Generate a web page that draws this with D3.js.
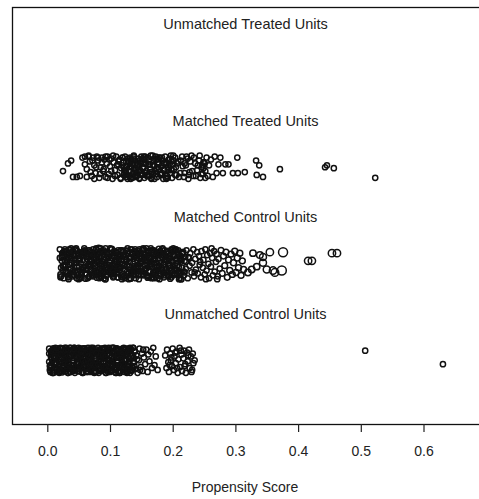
<!DOCTYPE html>
<html>
<head>
<meta charset="utf-8">
<script src="https://cdn.jsdelivr.net/npm/d3@7"></script>
<style>
  body { margin: 0; background: #fff; }
  text { font-family: "Liberation Sans", Arial, sans-serif; fill: #222; }
</style>
</head>
<body>
<div id="chart"></div>
<script>
// group names, bottom to top (group 1 .. 4)
const groupLabels = ["Unmatched Control Units", "Matched Control Units", "Matched Treated Units", "Unmatched Treated Units"];
const xTicks = [0, 0.1, 0.2, 0.3, 0.4, 0.5, 0.6];
const xTitle = "Propensity Score";

// each point: [propensity score, vertical jitter, weight (optional)]
const unmatchedTreated = [];

const matchedTreated = [
  [.025,-.04],[.033,.04],[.038,.07],[.041,-.10],[.047,-.10],[.052,-.09],
  [.056,.10],[.060,.11],[.063,-.02],[.066,.11],[.068,.06],[.071,-.09],[.073,.10],[.075,.02],[.077,-.06],[.079,.11],
  [.081,.07],[.083,-.11],[.085,.00],[.087,.10],[.089,-.04],[.091,.08],[.093,-.10],[.095,.04],[.096,.11],[.098,-.07],
  [.100,.01],[.102,.09],[.104,-.12],[.106,.05],[.108,-.03],
  [.110,.11],[.112,-.08],[.113,.03],[.115,.08],[.117,-.11],[.118,-.01],[.120,.10],[.121,.05],[.123,-.06],[.124,.11],
  [.126,-.10],[.127,.01],[.129,.07],[.130,-.04],[.132,.10],[.133,-.12],[.135,.04],[.136,-.07],[.138,.11],[.139,-.01],
  [.140,.07],[.142,-.10],[.143,.02],[.145,.09],[.146,-.05],[.147,-.12],[.149,.05],[.150,.11],[.151,-.08],[.153,.00],
  [.154,.08],[.155,-.11],[.157,.03],[.158,-.04],[.160,.10],[.161,-.09],[.162,.06],[.164,-.02],[.165,.12],[.166,-.12],
  [.168,.02],[.169,-.07],[.170,.09],[.128,-.12],[.137,.02],[.144,-.03],[.152,.04],[.159,-.08],[.134,.08],[.141,-.09],
  [.122,-.08],[.125,-.04],[.131,-.09],[.136,-.11],[.139,-.06],[.143,-.08],[.148,-.03],[.156,-.06],[.163,-.09],[.167,-.05],
  [.119,.02],[.126,.06],[.133,.00],[.140,.04],[.147,.02],[.153,.09],[.163,.03],
  [.172,-.04],[.173,.11],[.175,-.10],[.176,.05],[.178,-.02],[.179,.10],[.181,-.08],[.182,.01],[.184,.07],[.185,-.12],
  [.187,-.03],[.188,.11],[.190,.04],[.191,-.09],[.193,.00],[.194,.08],[.196,-.06],[.197,.12],[.199,-.11],[.200,.03],
  [.202,-.02],[.204,.10],[.206,-.08],[.171,.02],[.177,.08],[.183,-.06],[.189,-.11],[.195,.03],[.201,.07],
  [.174,-.07],[.186,.04],[.192,-.03],[.198,.06],[.205,.00],
  [.209,.06],[.212,-.06],[.215,.11],[.218,-.10],[.221,.02],[.224,.09],[.227,-.05],[.230,.12],[.233,-.09],[.236,.04],
  [.239,-.03],[.242,.07],[.244,-.11],[.246,.00],[.248,-.07],[.250,.05],[.252,-.04],[.254,.10],[.256,-.09],[.258,.02],
  [.261,.08],[.264,-.10],[.267,.11],[.270,-.06],[.273,.03],[.219,.04],[.226,-.08],[.247,.02],[.249,-.01],[.251,.04],
  [.060,.03],[.063,-.10],[.066,.12],[.069,-.05],[.072,.07],[.075,-.12],[.078,.00],[.081,.10],[.084,-.07],[.087,.05],
  [.090,-.02],[.093,.11],[.096,-.11],[.099,.08],[.102,-.04],[.105,.12],[.108,-.09],[.111,.02],[.114,.06],[.117,-.12],
  [.120,.10],[.123,-.03],[.126,-.08],[.129,.09],[.132,.01],[.135,-.10],[.138,.12],[.141,-.06],[.144,.04],[.147,-.11],
  [.150,.07],[.153,-.01],[.156,.11],[.159,-.09],[.162,.03],[.165,-.05],[.168,.12],[.171,-.12],[.174,.08],[.177,.00],
  [.180,-.07],[.183,.10],[.186,-.03],[.189,.05],[.192,-.11],[.195,.09],[.198,-.02],[.201,.12],[.204,-.08],[.207,.04],
  [.210,-.10],[.213,.07],[.216,.01],[.219,-.06],[.222,.11],[.225,-.12],[.228,.06],[.231,-.04],[.234,.10],[.237,-.09],
  [.240,.02],[.243,.12],[.246,-.07],[.249,.05],[.252,-.11],
  [.122,.00],[.126,-.06],[.130,.05],[.134,-.10],[.138,.09],[.142,-.02],[.146,.07],[.150,-.08],[.154,.11],[.158,-.04],
  [.162,.03],[.166,-.11],[.170,.06],[.174,-.01],[.178,.10],[.182,-.07],[.186,.04],[.190,-.12],[.194,.08],[.198,-.03],
  [.276,.10],[.284,.03],[.289,.03],[.303,.10],[.280,-.06],[.296,-.06],[.304,-.06],[.315,-.05],[.333,.07],[.338,.02],
  [.334,-.08],[.344,-.10],[.371,-.02],[.443,.00],[.446,.02],[.457,-.01],[.523,-.11]
];

const matchedControl = [
  [.020,.15],[.022,-.04],[.024,.09],[.026,-.15],[.028,.03],[.030,.12],[.032,-.10],[.034,.06],[.036,-.01],[.038,.16],
  [.040,-.13],[.042,.08],[.044,-.07],[.046,.01],[.048,.13],[.050,-.16],[.052,.05],[.054,-.09],[.056,.11],[.058,-.03],
  [.060,.14],[.062,-.06],[.064,.10],[.066,-.14],[.068,.02],[.070,.09],[.072,-.11],[.074,.06],[.076,-.02],[.078,.15],
  [.080,-.12],[.082,.07],[.084,-.05],[.086,.00],[.088,.12],[.090,-.15],[.092,.04],[.094,-.08],[.096,.10],[.098,-.02],
  [.100,.16],[.102,-.07],[.104,.08],[.106,-.13],[.108,.03],[.110,.11],[.112,-.09],[.114,.05],[.116,-.03],[.118,.14],
  [.120,-.14],[.122,.09],[.124,-.06],[.126,.02],[.128,.13],[.130,-.16],[.132,.06],[.134,-.10],[.136,.12],[.138,-.04],
  [.140,.15],[.142,-.05],[.144,.10],[.146,-.12],[.148,.01],[.150,.08],[.152,-.11],[.154,.07],[.156,-.01],[.158,.16],
  [.160,-.13],[.162,.06],[.164,-.08],[.166,.00],[.168,.14],[.170,-.15],[.172,.04],[.174,-.07],[.176,.11],[.178,-.03],
  [.180,.13],[.182,-.06],[.184,.09],[.186,-.14],[.188,.02],[.190,.12],[.192,-.10],[.194,.05],[.196,-.02],[.198,.15],
  [.200,-.12],[.202,.08],[.204,-.05],[.206,.01],[.208,.12],[.210,-.16],[.212,.05],[.214,-.09],
  [.021,-.11],[.023,.07],[.025,-.02],[.027,.13],[.029,-.08],[.031,.04],[.033,-.14],[.035,.10],[.037,-.05],[.039,.01],
  [.041,.09],[.043,-.12],[.045,.15],[.047,-.03],[.049,-.09],[.051,.06],[.053,-.15],[.055,.11],[.057,-.06],[.059,.12],
  [.061,-.10],[.063,.05],[.065,-.01],[.067,.14],[.069,-.07],[.071,.03],[.073,-.13],[.075,.09],[.077,-.04],[.079,.02],
  [.081,.10],[.083,-.11],[.085,.16],[.087,-.02],[.089,-.08],[.091,.05],[.093,-.16],[.095,.12],[.097,-.05],[.099,.11],
  [.101,-.09],[.103,.06],[.105,-.03],[.107,.13],[.109,-.06],[.111,.02],[.113,-.14],[.115,.08],[.117,-.04],[.119,.00],
  [.121,.08],[.123,-.12],[.125,.14],[.127,-.01],[.129,-.10],[.131,.07],[.133,-.15],[.135,.10],[.137,-.07],[.139,.13],
  [.141,-.11],[.143,.04],[.145,-.02],[.147,.15],[.149,-.08],[.151,.03],[.153,-.12],[.155,.09],[.157,-.05],[.159,.01],
  [.161,.11],[.163,-.13],[.165,.16],[.167,-.03],[.169,-.09],[.171,.05],[.173,-.14],[.175,.12],[.177,-.06],[.179,.10],
  [.181,-.10],[.183,.07],[.185,-.01],[.187,.14],[.189,-.07],[.191,.04],[.193,-.13],[.195,.08],[.197,-.04],[.199,.02],
  [.201,.09],[.203,-.11],[.205,.15],[.207,-.02],[.209,-.08],[.211,.06],[.213,-.16],[.215,.11],
  [.050,.05],[.054,-.12],[.058,.13],[.062,-.06],[.066,.08],[.070,-.01],[.074,.11],[.078,-.09],[.082,.03],[.086,-.14],
  [.090,.14],[.094,-.04],[.098,.07],[.102,-.10],[.106,.00],[.110,.12],[.114,-.07],[.118,.09],[.122,-.13],[.126,.04],
  [.130,-.03],[.134,.15],[.138,-.08],[.142,.06],[.146,-.11],[.150,.02],[.154,.10],[.158,-.05],[.162,.13],[.166,-.15],
  [.170,.01],[.174,.08],[.178,-.02],[.182,.11],[.186,-.09],[.190,.05],[.194,-.12],[.198,.14],
  [.020,.06],[.022,-.13],[.024,.11],[.026,-.03],[.028,.15],[.030,-.09],[.032,.02],[.034,-.16],[.036,.08],[.038,-.05],
  [.040,.13],[.042,-.11],[.044,.04],[.046,.16],[.048,-.07],[.050,.10],[.052,-.14],[.054,.00],[.056,.12],[.058,-.04],
  [.060,-.10],[.062,.07],[.064,-.15],[.066,.14],[.068,-.01],[.070,.05],[.072,-.12],[.074,.09],[.076,-.06],[.078,.16],
  [.080,-.08],[.082,.03],[.084,.11],[.086,-.13],[.088,.13],[.090,-.02],[.092,-.16],[.094,.06],[.096,.10],[.098,-.09],
  [.100,.01],[.102,.15],[.104,-.11],[.106,.08],[.108,-.04],[.110,.12],[.112,-.14],[.114,.04],[.116,-.07],[.118,.14],
  [.120,-.01],[.122,.09],[.124,-.15],[.126,.05],[.128,.16],[.130,-.10],[.132,.02],[.134,-.06],[.136,.11],[.138,-.12],
  [.140,.07],[.142,-.03],[.144,.13],[.146,-.16],[.148,.00],[.150,.10],[.152,-.08],[.154,.15],[.156,-.05],[.158,.03],
  [.160,-.13],[.162,.12],[.164,-.02],[.166,.06],[.168,-.11],[.170,.14],[.172,-.07],[.174,.09],[.176,-.15],[.178,.01],
  [.180,.11],[.182,-.04],[.184,.16],[.186,-.12],[.188,.05],[.190,-.09],[.192,.13],[.194,-.01],[.196,.08],[.198,-.14],
  [.200,.02],[.202,-.06],[.204,.15],[.206,-.10],[.208,.10],[.210,-.03],[.212,.04],[.214,-.16],[.216,.12],[.218,-.08],
  [.220,.07],
  [.021,-.14],[.023,.03],[.025,-.07],[.027,.12],[.029,-.01],[.031,.09],[.033,-.12],[.035,.15],[.037,-.05],[.039,.06],
  [.041,-.09],[.043,.01],[.045,.14],[.047,-.15],[.049,.08],[.051,-.03],[.053,.11],[.055,-.10],[.057,.04],[.059,.16],
  [.061,-.06],[.063,.12],[.065,-.02],[.067,-.13],[.069,.07],[.071,-.08],[.073,.15],[.075,.00],[.077,-.11],[.079,.10],
  [.081,.04],[.083,-.15],[.085,.13],[.087,-.05],[.089,.02],[.091,-.09],[.093,.16],[.095,-.12],[.097,.06],[.099,-.01],
  [.101,.11],[.103,-.07],[.105,-.14],[.107,.09],[.109,.03],[.111,-.10],[.113,.14],[.115,-.04],[.117,.07],[.119,-.16],
  [.121,.12],[.123,-.02],[.125,.05],[.127,-.13],[.129,.10],[.131,-.06],[.133,.15],[.135,-.09],[.137,.00],[.139,.13],
  [.141,-.15],[.143,.08],[.145,-.04],[.147,.11],[.149,-.11],[.151,.02],[.153,.16],[.155,-.07],[.157,.06],[.159,-.12],
  [.161,.09],[.163,-.01],[.165,.14],[.167,-.14],[.169,.04],[.171,-.08],[.173,.12],[.175,-.03],[.177,.10],[.179,-.16],
  [.181,.01],[.183,.15],[.185,-.10],[.187,.07],[.189,-.05],[.191,.13],[.193,-.13],[.195,.03],[.197,.11],[.199,-.06],
  [.201,.16],[.203,-.11],[.205,.05],[.207,-.02],[.209,.14],[.211,-.15],[.213,.08],[.215,-.04],[.217,.12],[.219,-.09],
  [.221,.02],
  [.025,.115],[.028,-.025],[.031,.055],[.034,-.135],[.037,.145],[.040,-.075],[.043,.005],[.046,.095],[.049,-.115],[.052,.035],
  [.055,-.055],[.058,.135],[.061,-.155],[.064,.075],[.067,-.015],[.070,.125],[.073,-.095],[.076,.045],[.079,-.145],[.082,.165],
  [.085,.015],[.088,-.065],[.091,.105],[.094,-.125],[.097,.065],[.100,-.035],[.103,.155],[.106,-.105],[.109,.025],[.112,-.045],
  [.115,.085],[.118,-.135],[.121,.135],[.124,-.005],[.127,-.085],[.130,.055],[.133,-.155],[.136,.115],[.139,-.025],[.142,.095],
  [.145,-.115],[.148,.015],[.151,.145],[.154,-.065],[.157,.045],[.160,-.145],[.163,.075],[.166,-.035],[.169,.125],[.172,-.095],
  [.175,.005],[.178,.155],[.181,-.125],[.184,.065],[.187,-.055],[.190,.105],[.193,-.015],[.196,-.155],[.199,.035],[.202,.135],
  [.205,-.075],[.208,.085],[.211,-.105],[.214,.025],
  [.216,.10],[.218,-.12],[.219,.03],[.221,-.05],[.222,.14],[.224,-.15],[.225,.07],[.227,-.02],[.228,.11],[.230,-.09],
  [.231,.01],[.233,.15],[.234,-.13],[.236,.05],[.237,-.06],[.239,.12],[.240,-.10],[.242,.08],[.243,-.01],[.245,-.14],
  [.246,.13],[.248,-.04],[.249,.04],[.251,-.11],[.252,.15],[.254,-.07],[.255,.09],[.257,.00],[.258,-.15],[.260,.11],
  [.261,-.03],[.263,.06],[.264,-.12],[.266,.13],[.267,-.08],[.269,.02],[.270,.10],[.272,-.13],[.273,.05],[.275,-.05],
  [.277,.14,1.2],[.279,-.10,1.2],[.281,.08,1.2],[.283,-.02,1.2],[.285,.12,1.2],[.287,-.14,1.2],[.289,.04,1.2],
  [.291,-.07,1.3],[.293,.10,1.3],[.295,-.11,1.3],[.297,.01,1.3],[.299,.13,1.3],[.301,-.09,1.3],[.303,.06,1.3],
  [.305,-.04,1.3],[.307,.11,1.3],[.309,-.12,1.3],[.311,.03,1.3],[.313,-.06,1.3],
  [.262,.16],[.253,-.16],[.244,.02],[.235,-.09],[.226,.06],[.271,-.16],
  [.320,-.09,1.5],[.326,-.06,1.5],[.328,.11,1.5],[.334,-.03,1.5],[.339,.09,1.6],[.344,.01,1.8],[.344,.07,1.8],
  [.350,-.06,1.8],[.355,.12,2],[.360,-.07,2],[.363,-.09,2.2],[.374,-.07,3],[.376,.12,3],
  [.416,.03,2],[.422,.03,2],[.454,.11,2],[.462,.11,2]
];

const unmatchedControl = [
  [.003,.12],[.005,-.05],[.007,.08],[.009,-.13],[.011,.02],[.013,.10],[.015,-.09],[.017,.05],[.019,-.02],[.021,.13],
  [.023,-.11],[.025,.07],[.027,-.06],[.029,.00],[.031,.11],[.033,-.13],[.035,.04],[.037,-.08],[.039,.09],[.041,-.03],
  [.043,.13],[.045,-.10],[.047,.06],[.049,-.04],[.051,.01],[.053,.12],[.055,-.12],[.057,.03],[.059,-.07],[.061,.10],
  [.063,-.01],[.065,.13],[.067,-.09],[.069,.05],[.071,-.05],[.073,.08],[.075,-.13],[.077,.02],[.079,.11],[.081,-.06],
  [.083,.09],[.085,-.11],[.087,.04],[.089,-.02],[.091,.12],[.093,-.08],[.095,.06],[.097,-.12],[.099,.00],[.101,.10],
  [.103,-.04],[.105,.13],[.107,-.10],[.109,.03],[.111,-.07],[.113,.11],[.115,-.13],[.117,.07],[.119,-.01],[.121,.09],
  [.123,-.09],[.125,.05],[.127,-.05],[.129,.12],
  [.004,-.10],[.006,.06],[.008,-.01],[.010,.12],[.012,-.07],[.014,.03],[.016,-.12],[.018,.09],[.020,-.04],[.022,.01],
  [.024,.08],[.026,-.10],[.028,.13],[.030,-.02],[.032,-.08],[.034,.05],[.036,-.12],[.038,.10],[.040,-.05],[.042,.11],
  [.044,-.09],[.046,.04],[.048,-.03],[.050,.13],[.052,-.06],[.054,.02],[.056,-.13],[.058,.08],[.060,-.01],[.062,.10],
  [.064,-.11],[.066,.07],[.068,.00],[.070,-.07],[.072,.12],[.074,-.04],[.076,.05],[.078,-.12],[.080,.09],[.082,-.02],
  [.084,.11],[.086,-.09],[.088,.03],[.090,-.06],[.092,.13],[.094,-.13],[.096,.06],[.098,-.03],[.100,.10],[.102,-.10],
  [.104,.01],[.106,.08],[.108,-.08],[.110,.12],[.112,-.05],[.114,.04],[.116,-.11],[.118,.09],[.120,-.02],[.122,.13],
  [.124,-.12],[.126,.06],[.128,-.06],[.130,.02],
  [.006,.03],[.010,-.13],[.014,.11],[.018,-.06],[.022,.07],[.026,-.01],[.030,.13],[.034,-.09],[.038,.04],[.042,-.11],
  [.046,.10],[.050,-.04],[.054,.01],[.058,.12],[.062,-.07],[.066,.06],[.070,-.12],[.074,.08],[.078,-.03],[.082,.09],
  [.086,-.10],[.090,.05],[.094,-.08],[.098,.13],[.102,-.02],[.106,.10],[.110,-.13],[.114,.04],[.118,-.05],[.122,.11],
  [.126,-.09],
  [.003,.07],[.005,-.12],[.007,.01],[.009,.10],[.011,-.04],[.013,.13],[.015,-.08],[.017,.04],[.019,-.13],[.021,.09],
  [.023,-.03],[.025,.12],[.027,-.10],[.029,.06],[.031,-.06],[.033,.00],[.035,.11],[.037,-.12],[.039,.08],[.041,-.01],
  [.043,.13],[.045,-.07],[.047,.03],[.049,-.11],[.051,.10],[.053,-.05],[.055,.05],[.057,-.13],[.059,.12],[.061,-.02],
  [.063,.07],[.065,-.09],[.067,.01],[.069,.11],[.071,-.06],[.073,.13],[.075,-.12],[.077,.04],[.079,-.03],[.081,.09],
  [.083,-.10],[.085,.06],[.087,.12],[.089,-.08],[.091,.02],[.093,-.13],[.095,.10],[.097,-.04],[.099,.05],[.101,-.11],
  [.103,.13],[.105,-.01],[.107,.08],[.109,-.07],[.111,.03],[.113,-.12],[.115,.11],[.117,-.05],[.119,.06],[.121,-.09],
  [.123,.00],[.125,.12],[.127,-.13],[.129,.09],[.131,-.02],[.133,.04],[.135,-.10],[.137,.13],[.139,-.06],
  [.004,-.06],[.006,.09],[.008,-.13],[.010,.04],[.012,.11],[.014,-.02],[.016,-.09],[.018,.07],[.020,-.12],[.022,.12],
  [.024,.02],[.026,-.07],[.028,.10],[.030,-.11],[.032,.05],[.034,-.04],[.036,.13],[.038,-.08],[.040,.00],[.042,.08],
  [.044,-.13],[.046,.06],[.048,-.03],[.050,.11],[.052,-.09],[.054,.01],[.056,.12],[.058,-.06],[.060,.04],[.062,-.12],
  [.064,.10],[.066,-.01],[.068,-.08],[.070,.13],[.072,-.05],[.074,.07],[.076,-.11],[.078,.02],[.080,.09],[.082,-.13],
  [.084,.05],[.086,-.03],[.088,.12],[.090,-.10],[.092,.08],[.094,-.07],[.096,.00],[.098,.11],[.100,-.12],[.102,.03],
  [.104,-.05],[.106,.13],[.108,-.09],[.110,.06],[.112,-.02],[.114,.10],[.116,-.13],[.118,.04],[.120,.12],[.122,-.08],
  [.124,.01],[.126,-.11],[.128,.07],[.130,-.04],[.132,.13],[.134,-.10],[.136,.05],[.138,-.01],[.140,.09],
  [.005,-.08],[.009,.12],[.013,-.03],[.017,.06],[.021,-.11],[.025,.09],[.029,.00],[.033,-.13],[.037,.13],[.041,-.06],
  [.045,.04],[.049,-.09],[.053,.11],[.057,-.01],[.061,.07],[.065,-.12],[.069,.02],[.073,.10],[.077,-.05],[.081,.13],
  [.085,-.10],[.089,.05],[.093,-.02],[.097,.12],[.101,-.07],[.105,.08],[.109,-.13],[.113,.03],[.117,.11],[.121,-.04],
  [.125,.06],[.129,-.11],[.133,.10],[.137,-.08],
  [.003,-.015],[.006,.095],[.009,-.105],[.012,.035],[.015,.125],[.018,-.055],[.021,.065],[.024,-.125],[.027,.015],[.030,.105],
  [.033,-.035],[.036,.055],[.039,-.095],[.042,.115],[.045,-.065],[.048,.025],[.051,-.115],[.054,.085],[.057,-.005],[.060,.125],
  [.063,-.085],[.066,.045],[.069,-.025],[.072,.105],[.075,-.125],[.078,.075],[.081,-.045],[.084,.005],[.087,.115],[.090,-.075],
  [.093,.035],[.096,-.105],[.099,.095],[.102,-.015],[.105,.065],[.108,-.125],[.111,.125],[.114,-.055],[.117,.015],[.120,.085],
  [.123,-.095],[.126,.045],[.129,-.035],[.132,.105],[.135,-.065],[.138,.025],
  [.129,.08],[.131,-.06],[.133,.12],[.134,-.11],[.136,.02],[.138,-.02],[.139,.10],[.141,-.09],[.142,.05],[.144,-.13],
  [.146,.00],[.147,.12],[.149,-.07],[.151,.07],[.152,-.11],[.154,.03],[.156,-.04],[.158,.11],[.160,-.12],[.161,.06],
  [.163,-.01],[.165,.09],[.167,-.08],[.169,.13],[.171,-.05],[.173,.04],[.176,-.10],[.132,-.13],[.137,.13],[.143,.01],
  [.148,-.10],[.153,.11],
  [.188,.05],[.190,-.08],[.191,.11],[.193,-.02],[.194,-.12],[.196,.07],[.197,.00],[.199,-.06],[.200,.12],[.202,-.10],
  [.203,.04],[.205,-.03],[.206,.09],[.208,-.13],[.209,.01],[.211,.13],[.212,-.07],[.214,.06],[.215,-.11],[.217,.02],
  [.218,.10],[.220,-.04],[.221,-.13],[.223,.08],[.224,-.01],[.226,.11],[.227,-.08],[.229,.04],[.230,-.12],[.232,.07],
  [.233,-.03],[.235,.00],[.198,.03],[.207,-.08],[.213,.10],[.219,-.06],[.225,.05],[.231,-.10],[.195,-.05],[.204,.08],
  [.507,.10],[.631,-.04]
];

const groups = [unmatchedControl, matchedControl, matchedTreated, unmatchedTreated];

const width = 479, height = 499;

const x = d3.scaleLinear().domain([0, 0.6]).range([47.3, 423.5]);
const y = d3.scaleLinear().domain([0.34, 4.66]).range([424, 7]);
const r = d3.scaleSqrt().domain([0, 1]).range([0, 2.6]);

const svg = d3.select('#chart')
  .append('svg')
  .attr('width', width)
  .attr('height', height);

// plot frame (right side runs past the window like the original)
svg.append('rect')
  .attr('x', 12.5)
  .attr('y', 7.5)
  .attr('width', 600)
  .attr('height', y(0.34) - y(4.66))
  .attr('fill', 'none')
  .attr('stroke', '#111')
  .attr('stroke-width', 1.3);

// group titles
svg.selectAll('.glabel')
  .data(groupLabels)
  .enter().append('text')
  .attr('class', 'glabel')
  .attr('x', 245.5)
  .attr('y', (d, i) => y(i + 1 + 0.43))
  .attr('text-anchor', 'middle')
  .style('font-size', '14.5px')
  .text(d => d);

// points
groups.forEach(function (pts, i) {
  svg.append('g')
    .selectAll('circle')
    .data(pts)
    .enter().append('circle')
    .attr('cx', d => x(d[0]))
    .attr('cy', d => y(i + 1 + d[1]))
    .attr('r', d => r(d[2] || 1))
    .attr('fill', 'none')
    .attr('stroke', '#111')
    .attr('stroke-width', 1.5);
});

// x axis
const axis = svg.append('g')
  .attr('transform', 'translate(0,424)')
  .call(d3.axisBottom(x).tickValues(xTicks).tickFormat(d3.format('.1f')).tickSize(8).tickPadding(14));
axis.select('.domain').remove();
axis.selectAll('line').attr('stroke', '#222').attr('stroke-width', 1.2);
axis.selectAll('text')
  .style('font-size', '14px')
  .style('font-family', '"Liberation Sans", Arial, sans-serif')
  .attr('fill', '#222');

svg.append('text')
  .attr('x', 245)
  .attr('y', 492)
  .attr('text-anchor', 'middle')
  .style('font-size', '14px')
  .text(xTitle);
</script>
</body>
</html>
